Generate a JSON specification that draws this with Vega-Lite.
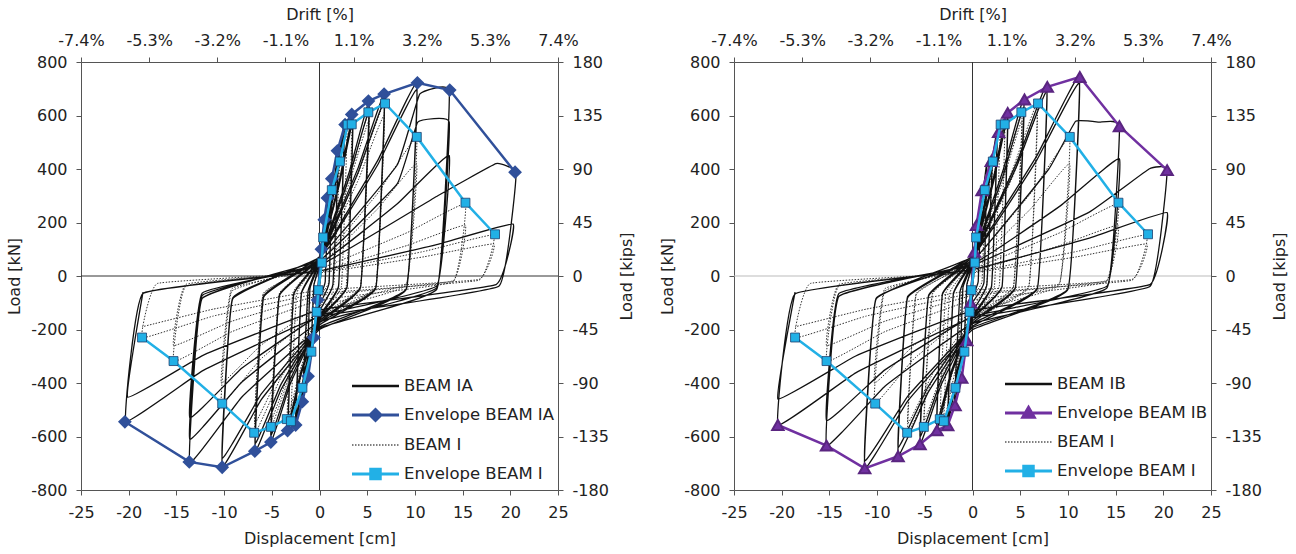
{
"$schema": "https://vega.github.io/schema/vega-lite/v6.json",
"background": "white",
"padding": {"left": 6, "top": 6, "right": 2, "bottom": 2},
"spacing": 24,
"resolve": {"scale": {"color": "independent", "shape": "independent"}},
"config": {
  "view": {"stroke": null},
  "font": "DejaVu Sans",
  "axis": {"grid": false, "labelFont": "DejaVu Sans", "labelFontSize": 16, "labelColor": "#222", "titleFont": "DejaVu Sans", "titleFontSize": 16, "titleFontWeight": "normal", "titleColor": "#222", "domainColor": "#555", "tickColor": "#555", "tickSize": 5, "labelPadding": 9, "titlePadding": 8, "labelFlush": false, "labelOverlap": false}
},
"datasets": {
  "beamIA": [
{"i":1,"x":0,"y":0},{"i":2,"x":0.4,"y":130},{"i":3,"x":0.1,"y":-10},{"i":4,"x":0,"y":-39},{"i":5,"x":-0.24,"y":-91},{"i":6,"x":-0.4,"y":-140},{"i":7,"x":-0.1,"y":-17},{"i":8,"x":0,"y":29},{"i":9,"x":0.54,"y":172},{"i":10,"x":0.9,"y":287},
{"i":11,"x":0.6,"y":-21},{"i":12,"x":0,"y":-84},{"i":13,"x":-0.54,"y":-195},{"i":14,"x":-0.9,"y":-300},{"i":15,"x":-0.6,"y":-36},{"i":16,"x":0,"y":36},{"i":17,"x":0.78,"y":217},{"i":18,"x":1.3,"y":362},{"i":19,"x":1.0,"y":-27},{"i":20,"x":0,"y":-109},
{"i":21,"x":-0.78,"y":-254},{"i":22,"x":-1.3,"y":-390},{"i":23,"x":-1.0,"y":-47},{"i":24,"x":0,"y":47},{"i":25,"x":1.2,"y":280},{"i":26,"x":2.0,"y":466},{"i":27,"x":1.4,"y":-33},{"i":28,"x":0,"y":-132},{"i":29,"x":-1.08,"y":-306},{"i":30,"x":-1.8,"y":-471},
{"i":31,"x":-1.2,"y":-57},{"i":32,"x":0,"y":56},{"i":33,"x":1.56,"y":337},{"i":34,"x":2.6,"y":562},{"i":35,"x":2.0,"y":-39},{"i":36,"x":0,"y":-156},{"i":37,"x":-1.5,"y":-361},{"i":38,"x":-2.5,"y":-556},{"i":39,"x":-1.9,"y":-67},{"i":40,"x":0,"y":53},
{"i":41,"x":1.56,"y":318},{"i":42,"x":2.6,"y":530},{"i":43,"x":2.0,"y":-37},{"i":44,"x":0,"y":-148},{"i":45,"x":-1.5,"y":-345},{"i":46,"x":-2.5,"y":-530},{"i":47,"x":-1.9,"y":-64},{"i":48,"x":0,"y":60},{"i":49,"x":2.1,"y":360},{"i":50,"x":3.5,"y":600},
{"i":51,"x":2.9,"y":-40},{"i":52,"x":0,"y":-162},{"i":53,"x":-1.98,"y":-375},{"i":54,"x":-3.3,"y":-577},{"i":55,"x":-2.7,"y":-69},{"i":56,"x":0,"y":58},{"i":57,"x":2.1,"y":345},{"i":58,"x":3.5,"y":575},{"i":59,"x":2.9,"y":-39},{"i":60,"x":0,"y":-155},
{"i":61,"x":-1.98,"y":-361},{"i":62,"x":-3.3,"y":-555},{"i":63,"x":-2.7,"y":-67},{"i":64,"x":0,"y":65},{"i":65,"x":3.12,"y":389},{"i":66,"x":5.2,"y":649},{"i":67,"x":4.3,"y":-43},{"i":68,"x":0,"y":-174},{"i":69,"x":-3.06,"y":-403},{"i":70,"x":-5.1,"y":-620},
{"i":71,"x":-4.2,"y":-74},{"i":72,"x":0,"y":62},{"i":73,"x":3.12,"y":369},{"i":74,"x":5.2,"y":615},{"i":75,"x":4.3,"y":-42},{"i":76,"x":0,"y":-167},{"i":77,"x":-3.06,"y":-387},{"i":78,"x":-5.1,"y":-595},{"i":79,"x":-4.2,"y":-71},{"i":80,"x":0,"y":68},
{"i":81,"x":4.08,"y":407},{"i":82,"x":6.8,"y":678},{"i":83,"x":5.9,"y":-46},{"i":84,"x":0,"y":-183},{"i":85,"x":-4.05,"y":-426},{"i":86,"x":-6.75,"y":-655},{"i":87,"x":-5.85,"y":-79},{"i":88,"x":0,"y":65},{"i":89,"x":4.08,"y":390},{"i":90,"x":6.8,"y":650},
{"i":91,"x":5.9,"y":-44},{"i":92,"x":0,"y":-175},{"i":93,"x":-4.05,"y":-406},{"i":94,"x":-6.75,"y":-625},{"i":95,"x":-5.85,"y":-75},{"i":96,"x":0,"y":72},{"i":97,"x":6.12,"y":433},{"i":98,"x":10.2,"y":721},{"i":99,"x":9.1,"y":-50},{"i":100,"x":0,"y":-200},
{"i":101,"x":-6.12,"y":-463},{"i":102,"x":-10.2,"y":-713},{"i":103,"x":-9.1,"y":-86},{"i":104,"x":0,"y":70},{"i":105,"x":6.12,"y":417},{"i":106,"x":10.2,"y":695},{"i":107,"x":9.1,"y":-48},{"i":108,"x":0,"y":-190},{"i":109,"x":-6.12,"y":-442},{"i":110,"x":-10.2,"y":-680},
{"i":111,"x":-9.1,"y":-82},{"i":112,"x":0,"y":69},{"i":113,"x":8.16,"y":416},{"i":114,"x":10.5,"y":680},{"i":115,"x":13.6,"y":694},{"i":116,"x":12.3,"y":-49},{"i":117,"x":0,"y":-195},{"i":118,"x":-8.16,"y":-453},{"i":119,"x":-13.6,"y":-697},{"i":120,"x":-12.3,"y":-84},
{"i":121,"x":0,"y":58},{"i":122,"x":8.16,"y":345},{"i":123,"x":10.3,"y":575},{"i":124,"x":13.6,"y":575},{"i":125,"x":12.3,"y":-43},{"i":126,"x":0,"y":-171},{"i":127,"x":-8.16,"y":-397},{"i":128,"x":-13.6,"y":-610},{"i":129,"x":-12.3,"y":-73},{"i":130,"x":0,"y":45},
{"i":131,"x":8.16,"y":270},{"i":132,"x":13.6,"y":450},{"i":133,"x":12.3,"y":-37},{"i":134,"x":0,"y":-148},{"i":135,"x":-8.16,"y":-345},{"i":136,"x":-13.6,"y":-530},{"i":137,"x":-12.3,"y":-64},{"i":138,"x":0,"y":39},{"i":139,"x":12.4,"y":300},{"i":140,"x":18.5,"y":420},
{"i":141,"x":20.6,"y":385},{"i":142,"x":18.8,"y":-38},{"i":143,"x":0,"y":-152},{"i":144,"x":-12.18,"y":-353},{"i":145,"x":-20.3,"y":-543},{"i":146,"x":-18.5,"y":-65},{"i":147,"x":0,"y":19},{"i":148,"x":12.18,"y":116},{"i":149,"x":20.3,"y":194},{"i":150,"x":18.5,"y":-32},
{"i":151,"x":0,"y":-127},{"i":152,"x":-12.06,"y":-294},{"i":153,"x":-20.1,"y":-453},{"i":154,"x":-18.5,"y":-60}
  ],
  "beamI": [
{"i":1,"x":0,"y":0},{"i":2,"x":0.4,"y":140},{"i":3,"x":0.1,"y":-10},{"i":4,"x":0,"y":-38},{"i":5,"x":-0.16,"y":-88},{"i":6,"x":-0.26,"y":-136},{"i":7,"x":-0.06,"y":-16},{"i":8,"x":0,"y":32},{"i":9,"x":0.78,"y":191},{"i":10,"x":1.3,"y":319},
{"i":11,"x":1.0,"y":-20},{"i":12,"x":0,"y":-80},{"i":13,"x":-0.52,"y":-185},{"i":14,"x":-0.87,"y":-285},{"i":15,"x":-0.57,"y":-34},{"i":16,"x":0,"y":43},{"i":17,"x":1.26,"y":255},{"i":18,"x":2.1,"y":425},{"i":19,"x":1.5,"y":-30},{"i":20,"x":0,"y":-118},
{"i":21,"x":-1.02,"y":-274},{"i":22,"x":-1.7,"y":-422},{"i":23,"x":-1.1,"y":-51},{"i":24,"x":0,"y":56},{"i":25,"x":1.74,"y":337},{"i":26,"x":2.9,"y":562},{"i":27,"x":2.3,"y":-38},{"i":28,"x":0,"y":-152},{"i":29,"x":-1.8,"y":-352},{"i":30,"x":-3.0,"y":-542},
{"i":31,"x":-2.4,"y":-65},{"i":32,"x":0,"y":57},{"i":33,"x":2.04,"y":340},{"i":34,"x":3.4,"y":567},{"i":35,"x":2.8,"y":-38},{"i":36,"x":0,"y":-151},{"i":37,"x":-2.04,"y":-351},{"i":38,"x":-3.4,"y":-540},{"i":39,"x":-2.8,"y":-65},{"i":40,"x":0,"y":61},
{"i":41,"x":3.12,"y":367},{"i":42,"x":5.2,"y":612},{"i":43,"x":4.3,"y":-40},{"i":44,"x":0,"y":-158},{"i":45,"x":-3.06,"y":-367},{"i":46,"x":-5.1,"y":-565},{"i":47,"x":-4.2,"y":-68},{"i":48,"x":0,"y":58},{"i":49,"x":3.12,"y":348},{"i":50,"x":5.2,"y":580},
{"i":51,"x":4.3,"y":-38},{"i":52,"x":0,"y":-151},{"i":53,"x":-3.06,"y":-351},{"i":54,"x":-5.1,"y":-540},{"i":55,"x":-4.2,"y":-65},{"i":56,"x":0,"y":64},{"i":57,"x":4.08,"y":386},{"i":58,"x":6.8,"y":644},{"i":59,"x":5.9,"y":-41},{"i":60,"x":0,"y":-164},
{"i":61,"x":-4.08,"y":-382},{"i":62,"x":-6.8,"y":-587},{"i":63,"x":-5.9,"y":-70},{"i":64,"x":0,"y":60},{"i":65,"x":4.08,"y":360},{"i":66,"x":6.8,"y":600},{"i":67,"x":5.9,"y":-39},{"i":68,"x":0,"y":-154},{"i":69,"x":-4.08,"y":-358},{"i":70,"x":-6.8,"y":-550},
{"i":71,"x":-5.9,"y":-66},{"i":72,"x":0,"y":52},{"i":73,"x":6.12,"y":310},{"i":74,"x":10.2,"y":517},{"i":75,"x":9.1,"y":-33},{"i":76,"x":0,"y":-134},{"i":77,"x":-6.18,"y":-311},{"i":78,"x":-10.3,"y":-478},{"i":79,"x":-9.2,"y":-57},{"i":80,"x":0,"y":42},
{"i":81,"x":6.12,"y":252},{"i":82,"x":10.2,"y":420},{"i":83,"x":9.1,"y":-28},{"i":84,"x":0,"y":-112},{"i":85,"x":-6.18,"y":-260},{"i":86,"x":-10.3,"y":-400},{"i":87,"x":-9.2,"y":-48},{"i":88,"x":0,"y":27},{"i":89,"x":9.18,"y":162},{"i":90,"x":15.3,"y":270},
{"i":91,"x":14.0,"y":-22},{"i":92,"x":0,"y":-90},{"i":93,"x":-9.18,"y":-208},{"i":94,"x":-15.3,"y":-320},{"i":95,"x":-14.0,"y":-38},{"i":96,"x":0,"y":19},{"i":97,"x":9.18,"y":114},{"i":98,"x":15.3,"y":190},{"i":99,"x":14.0,"y":-18},{"i":100,"x":0,"y":-73},
{"i":101,"x":-9.18,"y":-169},{"i":102,"x":-15.3,"y":-260},{"i":103,"x":-14.0,"y":-31},{"i":104,"x":0,"y":15},{"i":105,"x":10.98,"y":92},{"i":106,"x":18.3,"y":154},{"i":107,"x":16.7,"y":-16},{"i":108,"x":0,"y":-65},{"i":109,"x":-11.16,"y":-150},{"i":110,"x":-18.6,"y":-231},
{"i":111,"x":-17.0,"y":-28},{"i":112,"x":0,"y":12},{"i":113,"x":10.98,"y":72},{"i":114,"x":18.3,"y":120},{"i":115,"x":16.7,"y":-13},{"i":116,"x":0,"y":-53},{"i":117,"x":-11.16,"y":-124},{"i":118,"x":-18.6,"y":-190}
  ],
  "beamIB": [
{"i":1,"x":0,"y":0},{"i":2,"x":0.4,"y":130},{"i":3,"x":0.1,"y":-10},{"i":4,"x":0,"y":-39},{"i":5,"x":-0.24,"y":-91},{"i":6,"x":-0.4,"y":-140},{"i":7,"x":-0.1,"y":-17},{"i":8,"x":0,"y":28},{"i":9,"x":0.54,"y":168},{"i":10,"x":0.9,"y":280},
{"i":11,"x":0.6,"y":-20},{"i":12,"x":0,"y":-78},{"i":13,"x":-0.54,"y":-182},{"i":14,"x":-0.9,"y":-280},{"i":15,"x":-0.6,"y":-34},{"i":16,"x":0,"y":42},{"i":17,"x":0.9,"y":252},{"i":18,"x":1.5,"y":420},{"i":19,"x":1.2,"y":-25},{"i":20,"x":0,"y":-100},
{"i":21,"x":-0.78,"y":-233},{"i":22,"x":-1.3,"y":-358},{"i":23,"x":-1.0,"y":-43},{"i":24,"x":0,"y":46},{"i":25,"x":1.26,"y":275},{"i":26,"x":2.1,"y":458},{"i":27,"x":1.5,"y":-34},{"i":28,"x":0,"y":-135},{"i":29,"x":-1.14,"y":-314},{"i":30,"x":-1.9,"y":-483},
{"i":31,"x":-1.3,"y":-58},{"i":32,"x":0,"y":55},{"i":33,"x":1.56,"y":327},{"i":34,"x":2.6,"y":545},{"i":35,"x":2.0,"y":-39},{"i":36,"x":0,"y":-156},{"i":37,"x":-1.56,"y":-361},{"i":38,"x":-2.6,"y":-556},{"i":39,"x":-2.0,"y":-67},{"i":40,"x":0,"y":52},
{"i":41,"x":1.56,"y":312},{"i":42,"x":2.6,"y":520},{"i":43,"x":2.0,"y":-37},{"i":44,"x":0,"y":-148},{"i":45,"x":-1.56,"y":-345},{"i":46,"x":-2.6,"y":-530},{"i":47,"x":-2.0,"y":-64},{"i":48,"x":0,"y":62},{"i":49,"x":2.22,"y":371},{"i":50,"x":3.7,"y":619},
{"i":51,"x":3.1,"y":-40},{"i":52,"x":0,"y":-160},{"i":53,"x":-2.25,"y":-372},{"i":54,"x":-3.75,"y":-573},{"i":55,"x":-3.15,"y":-69},{"i":56,"x":0,"y":59},{"i":57,"x":2.22,"y":354},{"i":58,"x":3.7,"y":590},{"i":59,"x":3.1,"y":-39},{"i":60,"x":0,"y":-154},
{"i":61,"x":-2.25,"y":-358},{"i":62,"x":-3.75,"y":-550},{"i":63,"x":-3.15,"y":-66},{"i":64,"x":0,"y":67},{"i":65,"x":3.24,"y":399},{"i":66,"x":5.4,"y":665},{"i":67,"x":4.5,"y":-44},{"i":68,"x":0,"y":-176},{"i":69,"x":-3.3,"y":-408},{"i":70,"x":-5.5,"y":-628},
{"i":71,"x":-4.6,"y":-75},{"i":72,"x":0,"y":63},{"i":73,"x":3.24,"y":378},{"i":74,"x":5.4,"y":630},{"i":75,"x":4.5,"y":-42},{"i":76,"x":0,"y":-168},{"i":77,"x":-3.3,"y":-390},{"i":78,"x":-5.5,"y":-600},{"i":79,"x":-4.6,"y":-72},{"i":80,"x":0,"y":71},
{"i":81,"x":4.68,"y":428},{"i":82,"x":7.8,"y":714},{"i":83,"x":6.8,"y":-47},{"i":84,"x":0,"y":-188},{"i":85,"x":-4.68,"y":-437},{"i":86,"x":-7.8,"y":-672},{"i":87,"x":-6.8,"y":-81},{"i":88,"x":0,"y":69},{"i":89,"x":4.68,"y":414},{"i":90,"x":7.8,"y":690},
{"i":91,"x":6.8,"y":-45},{"i":92,"x":0,"y":-179},{"i":93,"x":-4.68,"y":-416},{"i":94,"x":-7.8,"y":-640},{"i":95,"x":-6.8,"y":-77},{"i":96,"x":0,"y":75},{"i":97,"x":6.72,"y":448},{"i":98,"x":11.2,"y":746},{"i":99,"x":10.0,"y":-50},{"i":100,"x":0,"y":-201},
{"i":101,"x":-6.78,"y":-467},{"i":102,"x":-11.3,"y":-719},{"i":103,"x":-10.1,"y":-86},{"i":104,"x":0,"y":72},{"i":105,"x":6.72,"y":432},{"i":106,"x":11.2,"y":720},{"i":107,"x":10.0,"y":-48},{"i":108,"x":0,"y":-193},{"i":109,"x":-6.78,"y":-449},{"i":110,"x":-11.3,"y":-690},
{"i":111,"x":-10.1,"y":-83},{"i":112,"x":0,"y":56},{"i":113,"x":8.0,"y":400},{"i":114,"x":10.8,"y":578},{"i":115,"x":13.3,"y":575},{"i":116,"x":15.4,"y":562},{"i":117,"x":14.1,"y":-44},{"i":118,"x":0,"y":-178},{"i":119,"x":-9.18,"y":-412},{"i":120,"x":-15.3,"y":-634},
{"i":121,"x":-14.0,"y":-76},{"i":122,"x":0,"y":44},{"i":123,"x":9.24,"y":263},{"i":124,"x":15.4,"y":438},{"i":125,"x":14.1,"y":-38},{"i":126,"x":0,"y":-151},{"i":127,"x":-9.18,"y":-351},{"i":128,"x":-15.3,"y":-540},{"i":129,"x":-14.0,"y":-65},{"i":130,"x":0,"y":40},
{"i":131,"x":12.24,"y":239},{"i":132,"x":18.5,"y":400},{"i":133,"x":20.4,"y":398},{"i":134,"x":18.6,"y":-39},{"i":135,"x":0,"y":-156},{"i":136,"x":-12.24,"y":-362},{"i":137,"x":-20.4,"y":-557},{"i":138,"x":-18.6,"y":-67},{"i":139,"x":0,"y":24},{"i":140,"x":12.24,"y":142},
{"i":141,"x":20.4,"y":237},{"i":142,"x":18.6,"y":-32},{"i":143,"x":0,"y":-129},{"i":144,"x":-12.24,"y":-299},{"i":145,"x":-20.4,"y":-460},{"i":146,"x":-18.6,"y":-60}
  ],
  "envIA": [
{"x":-20.4,"y":-545},{"x":-13.65,"y":-695},{"x":-10.2,"y":-715},{"x":-6.78,"y":-655},{"x":-5.1,"y":-621},{"x":-3.35,"y":-578},{"x":-2.5,"y":-557},{"x":-1.8,"y":-470},{"x":-1.2,"y":-375},{"x":-0.6,"y":-230},{"x":-0.2,"y":-90},{"x":0.2,"y":100},{"x":0.5,"y":210},{"x":0.83,"y":292},{"x":1.29,"y":364},{"x":1.88,"y":468},{"x":2.68,"y":566},{"x":3.38,"y":604},{"x":5.13,"y":654},{"x":6.77,"y":680},{"x":10.26,"y":722},{"x":13.65,"y":695},{"x":20.5,"y":388}
  ],
  "envI": [
{"x":-18.6,"y":-230},{"x":-15.3,"y":-318},{"x":-10.2,"y":-477},{"x":-6.85,"y":-586},{"x":-5.1,"y":-564},{"x":-3.43,"y":-535},{"x":-3.0,"y":-543},{"x":-1.79,"y":-418},{"x":-0.85,"y":-283},{"x":-0.3,"y":-134},{"x":-0.11,"y":-53},{"x":0.24,"y":50},{"x":0.38,"y":144},{"x":1.29,"y":321},{"x":2.13,"y":428},{"x":2.95,"y":566},{"x":3.38,"y":567},{"x":5.12,"y":612},{"x":6.87,"y":645},{"x":10.2,"y":520},{"x":15.3,"y":274},{"x":18.4,"y":156}
  ],
  "envIB": [
{"x":-20.4,"y":-557},{"x":-15.3,"y":-634},{"x":-11.3,"y":-719},{"x":-7.8,"y":-674},{"x":-5.5,"y":-629},{"x":-3.72,"y":-577},{"x":-2.6,"y":-558},{"x":-1.83,"y":-483},{"x":-1.13,"y":-381},{"x":-0.6,"y":-240},{"x":-0.2,"y":-100},{"x":0.2,"y":90},{"x":0.42,"y":190},{"x":1.0,"y":320},{"x":1.97,"y":430},{"x":2.74,"y":538},{"x":3.69,"y":610},{"x":5.45,"y":660},{"x":7.84,"y":707},{"x":11.25,"y":744},{"x":15.4,"y":560},{"x":20.4,"y":396}
  ]
},
"hconcat": [
{
  "width": 477, "height": 428,
  "resolve": {"axis": {"x": "independent", "y": "independent"}},
  "layer": [
    {"data": {"values": [{"v": 0}]}, "mark": {"type": "rule", "color": "#333", "strokeWidth": 1},
     "encoding": {"x": {"field": "v", "type": "quantitative", "scale": {"domain": [-25, 25], "nice": false}, "axis": null}}},
    {"data": {"values": [{"v": 0}]}, "mark": {"type": "rule", "color": "#333", "strokeWidth": 1},
     "encoding": {"y": {"field": "v", "type": "quantitative", "scale": {"domain": [-800, 800], "nice": false}, "axis": null}}},
    {"data": {"name": "beamI"}, "mark": {"type": "line", "color": "#333", "strokeWidth": 1, "strokeDash": [1.5, 1.5], "interpolate": "cardinal", "tension": 0.75},
     "encoding": {
       "x": {"field": "x", "type": "quantitative", "scale": {"domain": [-25, 25], "nice": false},
             "axis": {"orient": "top", "title": "Drift [%]", "values": [-25, -17.857, -10.714, -3.571, 3.571, 10.714, 17.857, 25], "labelExpr": "(datum.value < 0 ? '-' : '') + format(abs(datum.value) * 0.296, '.1f') + '%'", "titlePadding": 10}},
       "y": {"field": "y", "type": "quantitative", "scale": {"domain": [-800, 800], "nice": false},
             "axis": {"orient": "right", "title": "Load [kips]", "titleAngle": 270, "titleBaseline": "top", "titlePadding": 10, "values": [-800, -600, -400, -200, 0, 200, 400, 600, 800], "labelExpr": "(datum.value < 0 ? '-' : '') + format(abs(datum.value) * 0.225, '.0f')"}},
       "order": {"field": "i", "type": "quantitative"}}},
    {"data": {"name": "beamIA"}, "mark": {"type": "line", "color": "#111", "strokeWidth": 1.3, "interpolate": "cardinal", "tension": 0.75},
     "encoding": {
       "x": {"field": "x", "type": "quantitative", "scale": {"domain": [-25, 25], "nice": false},
             "axis": {"orient": "bottom", "title": "Displacement [cm]", "values": [-25, -20, -15, -10, -5, 0, 5, 10, 15, 20, 25], "labelExpr": "'' + datum.value", "titlePadding": 10}},
       "y": {"field": "y", "type": "quantitative", "scale": {"domain": [-800, 800], "nice": false},
             "axis": {"orient": "left", "title": "Load [kN]", "values": [-800, -600, -400, -200, 0, 200, 400, 600, 800], "labelExpr": "'' + datum.value"}},
       "order": {"field": "i", "type": "quantitative"}}},
    {"data": {"name": "envIA"}, "mark": {"type": "line", "color": "#30509A", "strokeWidth": 2.5, "point": {"shape": "diamond", "filled": true, "size": 120, "fill": "#30509A", "stroke": "#30509A"}},
     "encoding": {"x": {"field": "x", "type": "quantitative", "axis": null}, "y": {"field": "y", "type": "quantitative", "axis": null}}},
    {"data": {"name": "envI"}, "mark": {"type": "line", "color": "#22B0E6", "strokeWidth": 2.5, "point": {"shape": "square", "filled": true, "size": 80, "fill": "#22B0E6", "stroke": "#1D3F6E", "strokeWidth": 0.8}},
     "encoding": {"x": {"field": "x", "type": "quantitative", "axis": null}, "y": {"field": "y", "type": "quantitative", "axis": null}}},
    {"data": {"values": []}, "mark": {"type": "point", "filled": false},
     "encoding": {
       "color": {"field": "series", "type": "nominal", "scale": {"domain": ["BEAM IA", "Envelope BEAM IA", "BEAM I", "Envelope BEAM I"], "range": ["#111111", "#30509A", "#555555", "#22B0E6"]},
         "legend": {"orient": "none", "legendX": 270, "legendY": 313, "title": null, "symbolSize": 400, "symbolStrokeWidth": 1.5, "symbolOpacity": 1, "labelFont": "DejaVu Sans", "labelFontSize": 16.5, "labelColor": "#222", "labelOffset": 31, "rowPadding": 9, "padding": 0}},
       "shape": {"field": "series", "type": "nominal", "scale": {"domain": ["BEAM IA", "Envelope BEAM IA", "BEAM I", "Envelope BEAM I"], "range": [
         "M-1,-0.04H3.7M-1,0.04H3.7",
         "M-1,-0.07H3.7M-1,0.07H3.7M1.35,-0.65L2,0L1.35,0.65L0.7,0ZM1.35,-0.5L1.85,0L1.35,0.5L0.85,0ZM1.35,-0.35L1.7,0L1.35,0.35L1,0ZM1.35,-0.2L1.55,0L1.35,0.2L1.15,0ZM1.35,-0.05L1.4,0L1.35,0.05L1.3,0Z",
         "M-1,0H-0.85M-0.7,0H-0.55M-0.4,0H-0.25M-0.1,0H0.05M0.2,0H0.35M0.5,0H0.65M0.8,0H0.95M1.1,0H1.25M1.4,0H1.55M1.7,0H1.85M2,0H2.15M2.3,0H2.45M2.6,0H2.75M2.9,0H3.05M3.2,0H3.35M3.5,0H3.65",
         "M-1,-0.07H3.7M-1,0.07H3.7M0.8,-0.55H1.9V0.55H0.8ZM0.95,-0.4H1.75V0.4H0.95ZM1.1,-0.25H1.6V0.25H1.1ZM1.25,-0.1H1.45V0.1H1.25Z"]},
         "legend": {"orient": "none", "legendX": 270, "legendY": 313, "title": null, "symbolSize": 400, "symbolStrokeWidth": 1.5, "symbolOpacity": 1, "labelFont": "DejaVu Sans", "labelFontSize": 16.5, "labelColor": "#222", "labelOffset": 31, "rowPadding": 9, "padding": 0}}
     }}
  ]
},
{
  "width": 477, "height": 428,
  "resolve": {"axis": {"x": "independent", "y": "independent"}},
  "layer": [
    {"data": {"values": [{"v": 0}]}, "mark": {"type": "rule", "color": "#333", "strokeWidth": 1},
     "encoding": {"x": {"field": "v", "type": "quantitative", "scale": {"domain": [-25, 25], "nice": false}, "axis": null}}},
    {"data": {"values": [{"v": 0}]}, "mark": {"type": "rule", "color": "#bbb", "strokeWidth": 1},
     "encoding": {"y": {"field": "v", "type": "quantitative", "scale": {"domain": [-800, 800], "nice": false}, "axis": null}}},
    {"data": {"name": "beamI"}, "mark": {"type": "line", "color": "#333", "strokeWidth": 1, "strokeDash": [1.5, 1.5], "interpolate": "cardinal", "tension": 0.75},
     "encoding": {
       "x": {"field": "x", "type": "quantitative", "scale": {"domain": [-25, 25], "nice": false},
             "axis": {"orient": "top", "title": "Drift [%]", "values": [-25, -17.857, -10.714, -3.571, 3.571, 10.714, 17.857, 25], "labelExpr": "(datum.value < 0 ? '-' : '') + format(abs(datum.value) * 0.296, '.1f') + '%'", "titlePadding": 10}},
       "y": {"field": "y", "type": "quantitative", "scale": {"domain": [-800, 800], "nice": false},
             "axis": {"orient": "right", "title": "Load [kips]", "titleAngle": 270, "titleBaseline": "top", "titlePadding": 10, "values": [-800, -600, -400, -200, 0, 200, 400, 600, 800], "labelExpr": "(datum.value < 0 ? '-' : '') + format(abs(datum.value) * 0.225, '.0f')"}},
       "order": {"field": "i", "type": "quantitative"}}},
    {"data": {"name": "beamIB"}, "mark": {"type": "line", "color": "#111", "strokeWidth": 1.3, "interpolate": "cardinal", "tension": 0.75},
     "encoding": {
       "x": {"field": "x", "type": "quantitative", "scale": {"domain": [-25, 25], "nice": false},
             "axis": {"orient": "bottom", "title": "Displacement [cm]", "values": [-25, -20, -15, -10, -5, 0, 5, 10, 15, 20, 25], "labelExpr": "'' + datum.value", "titlePadding": 10}},
       "y": {"field": "y", "type": "quantitative", "scale": {"domain": [-800, 800], "nice": false},
             "axis": {"orient": "left", "title": "Load [kN]", "values": [-800, -600, -400, -200, 0, 200, 400, 600, 800], "labelExpr": "'' + datum.value"}},
       "order": {"field": "i", "type": "quantitative"}}},
    {"data": {"name": "envIB"}, "mark": {"type": "line", "color": "#7030A0", "strokeWidth": 2.5, "point": {"shape": "triangle-up", "filled": true, "size": 130, "fill": "#7030A0", "stroke": "#5A2580"}},
     "encoding": {"x": {"field": "x", "type": "quantitative", "axis": null}, "y": {"field": "y", "type": "quantitative", "axis": null}}},
    {"data": {"name": "envI"}, "mark": {"type": "line", "color": "#22B0E6", "strokeWidth": 2.5, "point": {"shape": "square", "filled": true, "size": 80, "fill": "#22B0E6", "stroke": "#1D3F6E", "strokeWidth": 0.8}},
     "encoding": {"x": {"field": "x", "type": "quantitative", "axis": null}, "y": {"field": "y", "type": "quantitative", "axis": null}}},
    {"data": {"values": []}, "mark": {"type": "point", "filled": false},
     "encoding": {
       "color": {"field": "series", "type": "nominal", "scale": {"domain": ["BEAM IB", "Envelope BEAM IB", "BEAM I", "Envelope BEAM I"], "range": ["#111111", "#7030A0", "#555555", "#22B0E6"]},
         "legend": {"orient": "none", "legendX": 270, "legendY": 311, "title": null, "symbolSize": 400, "symbolStrokeWidth": 1.5, "symbolOpacity": 1, "labelFont": "DejaVu Sans", "labelFontSize": 16.5, "labelColor": "#222", "labelOffset": 31, "rowPadding": 9, "padding": 0}},
       "shape": {"field": "series", "type": "nominal", "scale": {"domain": ["BEAM IB", "Envelope BEAM IB", "BEAM I", "Envelope BEAM I"], "range": [
         "M-1,-0.04H3.7M-1,0.04H3.7",
         "M-1,-0.07H3.7M-1,0.07H3.7M1.35,-0.7L2.05,0.5H0.65ZM1.35,-0.5L1.9,0.4H0.8ZM1.35,-0.3L1.72,0.3H0.98ZM1.35,-0.1L1.55,0.2H1.15Z",
         "M-1,0H-0.85M-0.7,0H-0.55M-0.4,0H-0.25M-0.1,0H0.05M0.2,0H0.35M0.5,0H0.65M0.8,0H0.95M1.1,0H1.25M1.4,0H1.55M1.7,0H1.85M2,0H2.15M2.3,0H2.45M2.6,0H2.75M2.9,0H3.05M3.2,0H3.35M3.5,0H3.65",
         "M-1,-0.07H3.7M-1,0.07H3.7M0.8,-0.55H1.9V0.55H0.8ZM0.95,-0.4H1.75V0.4H0.95ZM1.1,-0.25H1.6V0.25H1.1ZM1.25,-0.1H1.45V0.1H1.25Z"]},
         "legend": {"orient": "none", "legendX": 270, "legendY": 311, "title": null, "symbolSize": 400, "symbolStrokeWidth": 1.5, "symbolOpacity": 1, "labelFont": "DejaVu Sans", "labelFontSize": 16.5, "labelColor": "#222", "labelOffset": 31, "rowPadding": 9, "padding": 0}}
     }}
  ]
}
]
}
